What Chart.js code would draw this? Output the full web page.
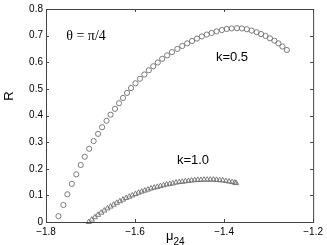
<!DOCTYPE html>
<html>
<head>
<meta charset="utf-8">
<script src="https://cdn.jsdelivr.net/npm/chart.js@4"></script>
<style>
html,body{margin:0;padding:0;background:#fff;}
#wrap{width:327px;height:245px;position:relative;}
</style>
</head>
<body>
<div id="wrap"><canvas id="c" width="327" height="245"></canvas></div>
<script>
// k = 0.5 (circles)
const circleX = [-1.772,-1.761,-1.752,-1.742,-1.732,-1.722,-1.713,-1.703,-1.693,-1.683,-1.674,-1.664,-1.655,-1.645,-1.636,-1.627,-1.618,-1.609,-1.599,-1.589,-1.579,-1.569,-1.559,-1.549,-1.539,-1.528,-1.517,-1.505,-1.494,-1.483,-1.472,-1.461,-1.450,-1.439,-1.428,-1.417,-1.405,-1.394,-1.383,-1.371,-1.360,-1.349,-1.338,-1.327,-1.317,-1.307,-1.297,-1.287,-1.278,-1.269,-1.259];
const circleY = [0.022,0.064,0.104,0.143,0.179,0.214,0.245,0.275,0.304,0.331,0.356,0.380,0.403,0.425,0.446,0.466,0.485,0.503,0.521,0.538,0.554,0.570,0.585,0.599,0.613,0.626,0.638,0.650,0.661,0.671,0.680,0.689,0.697,0.704,0.710,0.716,0.721,0.725,0.727,0.728,0.727,0.724,0.719,0.713,0.706,0.699,0.690,0.681,0.671,0.659,0.646];
// k = 1.0 (triangles)
const triX = [-1.704,-1.697,-1.690,-1.683,-1.676,-1.669,-1.662,-1.655,-1.648,-1.641,-1.634,-1.627,-1.620,-1.613,-1.606,-1.599,-1.592,-1.585,-1.578,-1.571,-1.564,-1.557,-1.550,-1.543,-1.536,-1.529,-1.522,-1.515,-1.508,-1.501,-1.494,-1.487,-1.480,-1.473,-1.466,-1.459,-1.452,-1.445,-1.438,-1.431,-1.424,-1.417,-1.410,-1.403,-1.396,-1.389,-1.382,-1.376,-1.373];
const triY = [0.000,0.009,0.018,0.027,0.035,0.043,0.051,0.058,0.065,0.072,0.078,0.084,0.090,0.095,0.100,0.105,0.110,0.114,0.118,0.122,0.126,0.129,0.132,0.135,0.138,0.141,0.143,0.145,0.148,0.150,0.151,0.153,0.154,0.156,0.157,0.158,0.158,0.159,0.159,0.159,0.159,0.158,0.157,0.156,0.154,0.152,0.150,0.148,0.146];
const xTicks = [-1.8,-1.6,-1.4,-1.2];
const yTicks = [0,0.1,0.2,0.3,0.4,0.5,0.6,0.7,0.8];
const labels = {theta:'θ = π/4', k1:'k=0.5', k2:'k=1.0', yTitle:'R', xTitleMain:'μ', xTitleSub:'24'};

const markerColor = '#6e6e6e';

const framePlugin = {
  id:'frame',
  afterDatasetsDraw(chart){
    const {ctx, chartArea:a, scales:{x,y}} = chart;
    ctx.save();
    ctx.strokeStyle = '#444';
    ctx.lineWidth = 1;
    ctx.strokeRect(a.left+0.5, a.top+0.5, a.right-a.left, a.bottom-a.top);
    ctx.beginPath();
    const tl = 3;
    xTicks.forEach(v=>{
      const px = Math.round(x.getPixelForValue(v))+0.5;
      ctx.moveTo(px,a.bottom); ctx.lineTo(px,a.bottom-tl);
      ctx.moveTo(px,a.top); ctx.lineTo(px,a.top+tl);
    });
    yTicks.forEach(v=>{
      const py = Math.round(y.getPixelForValue(v))+0.5;
      ctx.moveTo(a.left,py); ctx.lineTo(a.left+tl,py);
      ctx.moveTo(a.right,py); ctx.lineTo(a.right-tl,py);
    });
    ctx.stroke();
    ctx.fillStyle = '#000';
    ctx.textBaseline = 'middle';
    ctx.textAlign = 'center';
    ctx.font = '14px "Liberation Serif"';
    ctx.fillText(labels.theta, 86, 36);
    ctx.font = '13px "Liberation Sans"';
    ctx.fillText(labels.k1, 232, 57);
    ctx.fillText(labels.k2, 193, 160);
    // y title
    ctx.save();
    ctx.translate(9, 96);
    ctx.rotate(-Math.PI/2);
    ctx.font = '13px "Liberation Sans"';
    ctx.fillText(labels.yTitle, 0, 0);
    ctx.restore();
    // x title
    ctx.textAlign = 'left';
    ctx.textBaseline = 'alphabetic';
    ctx.font = '13px "Liberation Sans"';
    ctx.fillText(labels.xTitleMain, 166, 240);
    ctx.font = '10px "Liberation Sans"';
    ctx.fillText(labels.xTitleSub, 173.5, 245);
    ctx.restore();
  }
};

new Chart(document.getElementById('c'), {
  type:'scatter',
  data:{
    datasets:[
      {label:'k=0.5', data:circleX.map((v,i)=>({x:v,y:circleY[i]})), pointStyle:'circle', pointRadius:2.6, pointBorderWidth:0.9, borderColor:markerColor, pointBorderColor:markerColor, pointBackgroundColor:'rgba(0,0,0,0)', showLine:false, clip:false},
      {label:'k=1.0', data:triX.map((v,i)=>({x:v,y:triY[i]})), pointStyle:'triangle', pointRadius:3, pointBorderWidth:0.9, borderColor:markerColor, pointBorderColor:markerColor, pointBackgroundColor:'rgba(0,0,0,0)', showLine:false, clip:false}
    ]
  },
  options:{
    responsive:false,
    animation:false,
    devicePixelRatio:1,
    layout:{padding:{top:8,right:11,left:0,bottom:0}},
    plugins:{legend:{display:false}, tooltip:{enabled:false}},
    events:[],
    scales:{
      x:{type:'linear', min:-1.8, max:-1.2,
        afterBuildTicks:s=>{s.ticks = xTicks.map(v=>({value:v}));},
        afterFit:s=>{s.height = 23;},
        grid:{display:false, drawTicks:false}, border:{display:false},
        ticks:{padding:4, color:'#000', font:{family:'Liberation Sans', size:10}, maxRotation:0, autoSkip:false,
          callback:v=>(v<0?'\u2212':'')+Math.abs(v).toFixed(1)}},
      y:{type:'linear', min:0, max:0.8,
        afterBuildTicks:s=>{s.ticks = yTicks.map(v=>({value:v}));},
        afterFit:s=>{s.width = 46;},
        grid:{display:false, drawTicks:false}, border:{display:false},
        ticks:{padding:3, color:'#000', font:{family:'Liberation Sans', size:10}, autoSkip:false,
          callback:v=>v===0?'0':(Math.round(v*10)/10).toFixed(1)}}
    }
  },
  plugins:[framePlugin]
});
</script>
</body>
</html>
